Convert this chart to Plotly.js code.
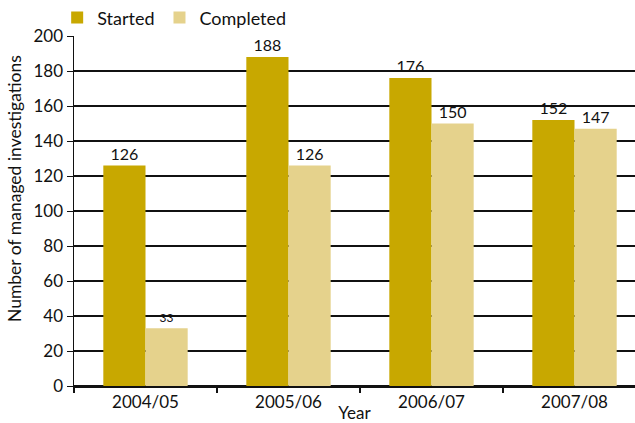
<!DOCTYPE html>
<html><head><meta charset="utf-8">
<script src="https://cdn.plot.ly/plotly-3.0.1.min.js"></script>
<style>html,body{margin:0;padding:0;background:#fff}#c{width:635px;height:423px}</style>
</head><body><div id="c"></div>
<script>
const years = ["2004/05", "2005/06", "2006/07", "2007/08"];
const started = [126, 188, 176, 152];
const completed = [33, 126, 150, 147];
const yTicks = [0, 20, 40, 60, 80, 100, 120, 140, 160, 180, 200];

const F = "Lato, 'Open Sans', sans-serif";
const traces = [
  {type: "bar", name: "Started", x: years, y: started, marker: {color: "#C8A800"},
   text: started.map(String), textposition: "outside", cliponaxis: false,
   textfont: {family: F, size: 16, color: "#111"}},
  {type: "bar", name: "Completed", x: years, y: completed, marker: {color: "#E5D28C"},
   text: completed.map(String), textposition: "outside", cliponaxis: false,
   textfont: {family: F, size: [12, 16, 16, 16], color: "#111"}}
];
const layout = {
  width: 635, height: 423,
  margin: {l: 74, r: 0, t: 36, b: 37, autoexpand: false},
  paper_bgcolor: "#fff", plot_bgcolor: "#fff",
  font: {family: F, size: 17, color: "#111"},
  barmode: "group", bargap: 0.41, bargroupgap: 0,
  showlegend: true,
  legend: {orientation: "h", x: -0.03, xanchor: "left", y: 0.999, yanchor: "bottom",
           bgcolor: "rgba(0,0,0,0)",
           font: {family: F, size: 18, color: "#111"}, itemwidth: 30, tracegroupgap: 0},
  xaxis: {range: [-0.5, 3.423], showgrid: false, showline: true, linecolor: "#111", linewidth: 1.5,
          ticks: "outside", tickson: "boundaries", ticklen: 5, tickcolor: "#111", tickwidth: 1.2,
          tickfont: {family: F, size: 17}, title: {text: "Year", standoff: 6, font: {family: F, size: 17}},
          fixedrange: true},
  yaxis: {range: [0, 200], tickvals: yTicks, showgrid: true, gridcolor: "#111", gridwidth: 1.5,
          showline: true, linecolor: "#111", linewidth: 1.5, ticks: "outside", ticklen: 6, tickcolor: "#111",
          zeroline: true, zerolinecolor: "#111", zerolinewidth: 1.5,
          tickfont: {family: F, size: 17}},
  annotations: [{text: "Number of managed investigations", textangle: -90, showarrow: false,
                 xref: "paper", yref: "paper", x: -0.105, y: 0.563, xanchor: "center", yanchor: "middle",
                 font: {family: F, size: 17.5, color: "#111"}}]
};
Plotly.newPlot("c", traces, layout, {displayModeBar: false, staticPlot: true});
</script></body></html>
